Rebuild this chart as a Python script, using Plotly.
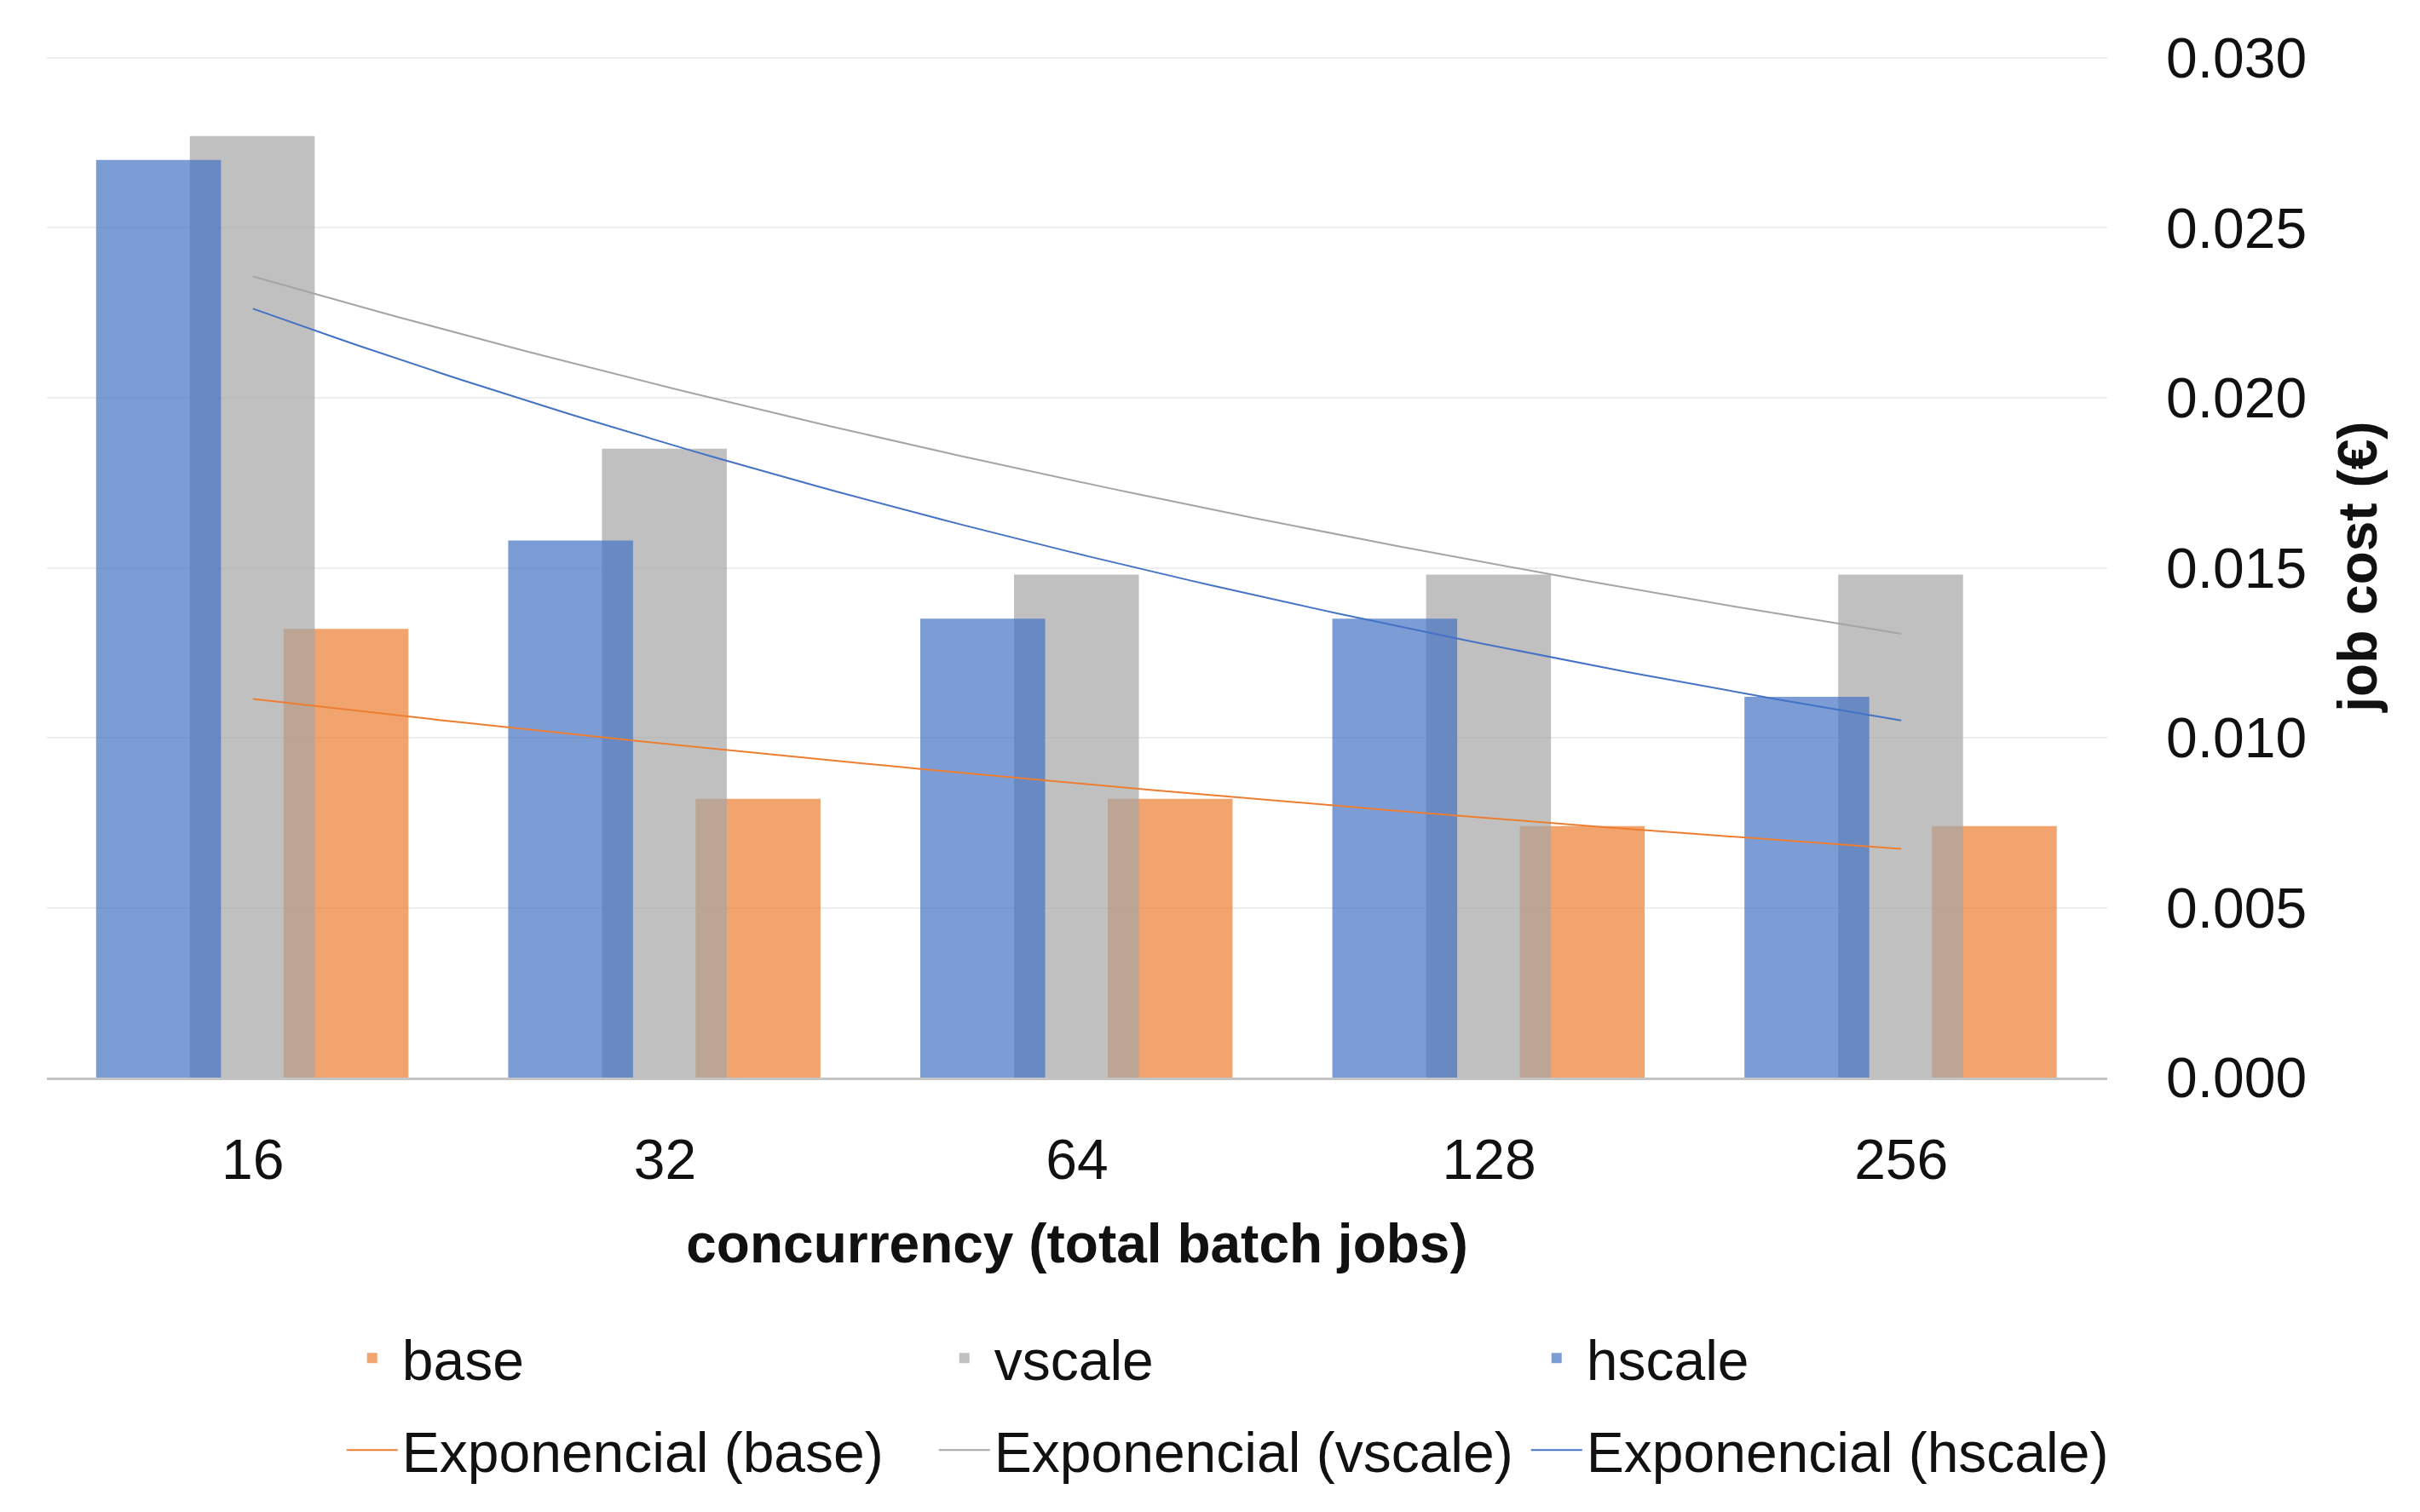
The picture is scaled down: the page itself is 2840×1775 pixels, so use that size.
import numpy as np
import plotly.graph_objects as go

# ---- data ----
categories = ['16', '32', '64', '128', '256']
base = [0.0132, 0.0082, 0.0082, 0.0074, 0.0074]
vscale = [0.0277, 0.0185, 0.0148, 0.0148, 0.0148]
hscale = [0.0270, 0.0158, 0.0135, 0.0135, 0.0112]
y_tick_values = [0.000, 0.005, 0.010, 0.015, 0.020, 0.025, 0.030]
series_names = ['base', 'vscale', 'hscale']
trend_names = ['Exponencial (base)', 'Exponencial (vscale)', 'Exponencial (hscale)']
x_title = 'concurrency (total batch jobs)'
y_title = 'job cost (€)'

FONT = 'Liberation Sans, Arial, sans-serif'
TXT = '#111111'
FS = 66
FS_TITLE = 64


def exp_trend(values, n=80):
    """Excel-style exponential trendline y = a*exp(b*x), x = 1..N."""
    x = np.arange(1, len(values) + 1)
    b, ln_a = np.polyfit(x, np.log(values), 1)
    xs = np.linspace(1, len(values), n)
    return xs, np.exp(ln_a) * np.exp(b * xs)


bar_colors = ['rgba(237,125,49,0.7)', 'rgba(165,165,165,0.7)', 'rgba(68,114,196,0.7)']
line_colors = ['#ED7D31', '#A5A5A5', '#4472C4']
bar_offsets = [0.0744, -0.153, -0.3805]
BAR_W = 0.303

fig = go.Figure()
for name, vals, col, off in zip(series_names, [base, vscale, hscale], bar_colors, bar_offsets):
    fig.add_trace(go.Bar(
        x=categories, y=vals, name=name,
        marker=dict(color=col, line=dict(width=0)),
        width=BAR_W, offset=off, legend='legend'))

for name, vals, col in zip(trend_names, [base, vscale, hscale], line_colors):
    xs, ys = exp_trend(vals)
    fig.add_trace(go.Scatter(
        x=xs, y=ys, mode='lines', name=name, xaxis='x2', yaxis='y',
        line=dict(color=col, width=2), legend='legend2'))

fig.update_layout(
    width=2840, height=1775,
    margin=dict(l=55, r=367, t=65, b=510),
    paper_bgcolor='white', plot_bgcolor='white',
    barmode='overlay',
    font=dict(family=FONT, size=FS, color=TXT),
    xaxis=dict(
        type='category', range=[-0.5, 4.5],
        showline=True, linecolor='#C4C4C4', linewidth=3,
        showgrid=False, ticks='', ticklabelstandoff=37,
        tickfont=dict(size=FS, color=TXT),
        title=dict(text=x_title, standoff=40,
                   font=dict(size=FS_TITLE, color=TXT, weight='bold')),
    ),
    xaxis2=dict(overlaying='x', anchor='y', range=[0.5, 5.5], visible=False),
    yaxis=dict(
        side='right', range=[0, 0.030075], tickvals=y_tick_values,
        tickformat='.3f', showgrid=True, gridcolor='#EEEEEE', gridwidth=2,
        zeroline=False, showline=False, ticks='', ticklabelstandoff=68,
        tickfont=dict(size=FS, color=TXT),
        title=dict(text=y_title, standoff=38,
                   font=dict(size=FS_TITLE, color=TXT, weight='bold')),
    ),
    legend=dict(orientation='h', x=0.1434, xanchor='left', y=-0.2745, yanchor='middle',
                entrywidth=620, entrywidthmode='pixels', itemwidth=60,
                font=dict(size=FS, color=TXT), bgcolor='rgba(0,0,0,0)', traceorder='normal'),
    legend2=dict(orientation='h', x=0.1434, xanchor='left', y=-0.3645, yanchor='middle',
                 entrywidth=620, entrywidthmode='pixels', itemwidth=60,
                 font=dict(size=FS, color=TXT), bgcolor='rgba(0,0,0,0)', traceorder='normal'),
    showlegend=True,
)

fig.write_html('out.html', config={'displayModeBar': False},
               post_script="document.body.style.margin='0px';")
